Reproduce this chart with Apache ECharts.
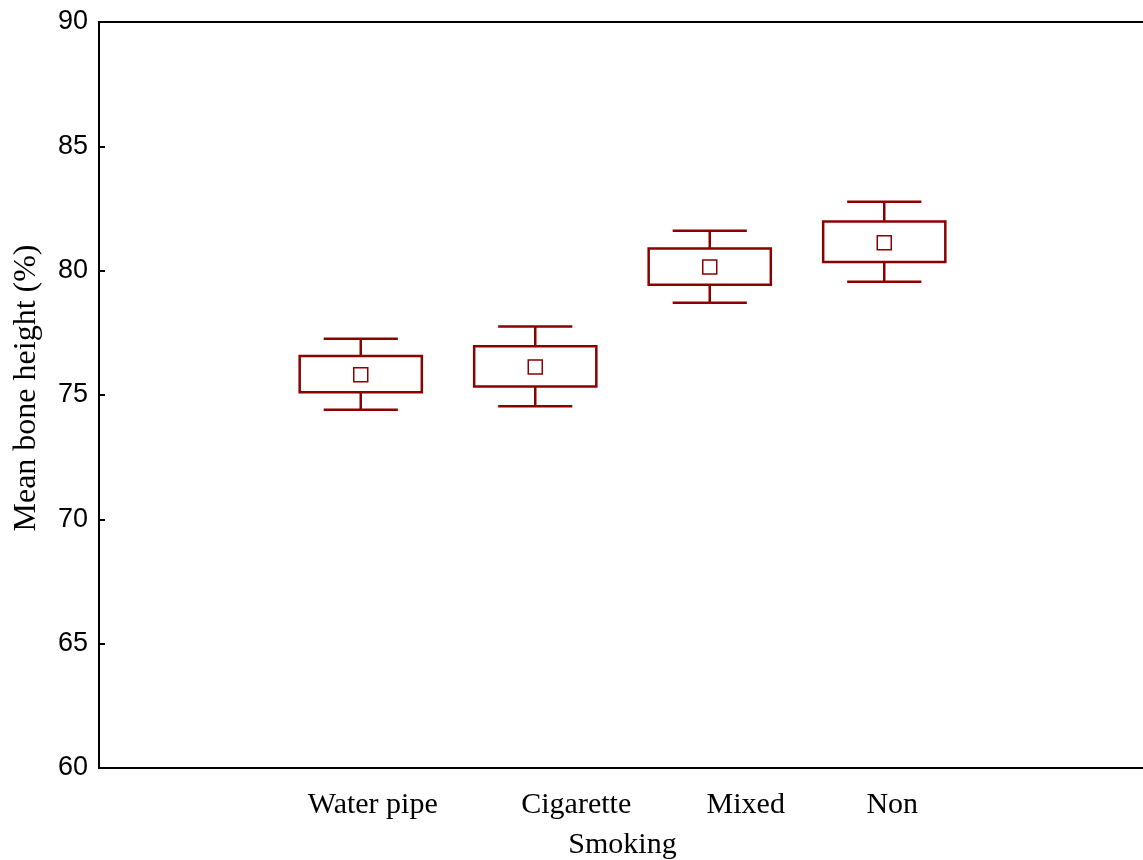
<!DOCTYPE html>
<html>
<head>
<meta charset="utf-8">
<script src="https://cdn.jsdelivr.net/npm/echarts@6/dist/echarts.min.js"></script>
<style>html,body{margin:0;padding:0;background:#fff}#c{width:1143px;height:860px}</style>
</head>
<body>
<div id="c"></div>
<script>
// Data
const categories = ['Water pipe', 'Cigarette', 'Mixed', 'Non'];
const whiskerLow = [74.41, 74.55, 78.71, 79.55];
const boxLow     = [75.11, 75.34, 79.43, 80.35];
const means      = [75.81, 76.13, 80.15, 81.12];
const boxHigh    = [76.57, 76.96, 80.89, 81.98];
const whiskerHigh= [77.26, 77.75, 81.61, 82.77];
const yTicks = [60, 65, 70, 75, 80, 85, 90];

// label nudges (px) to match the reference label placement
const labelShift = { 'Water pipe': 24, 'Cigarette': 82, 'Mixed': 72, 'Non': 16 };

const axisCats = [''].concat(categories).concat(['']);
const seriesData = categories.map((c, i) => [i + 1, whiskerLow[i], boxLow[i], means[i], boxHigh[i], whiskerHigh[i]]);

const red = '#8b0000';
const chart = echarts.init(document.getElementById('c'), null, { renderer: 'canvas' });
const rich = {};
categories.forEach((c, i) => {
  rich['l' + i] = { fontFamily: 'Liberation Serif', fontSize: 30, color: '#000', padding: [0, 0, 0, labelShift[c]] };
});

chart.setOption({
  animation: false,
  grid: { left: 99, top: 22, width: 1047, height: 746, containLabel: false, outerBoundsMode: 'none', show: true, borderColor: '#000', borderWidth: 2, backgroundColor: 'transparent' },
  xAxis: {
    type: 'category',
    data: axisCats,
    boundaryGap: true,
    axisLine: { lineStyle: { color: '#000', width: 2 } },
    axisTick: { show: false },
    splitLine: { show: false },
    axisLabel: {
      margin: 22,
      interval: 0,
      formatter: function (v) {
        const i = categories.indexOf(v);
        return i < 0 ? '' : '{l' + i + '|' + v + '}';
      },
      rich: rich
    },
    name: 'Smoking',
    nameLocation: 'middle',
    nameGap: 62,
    nameTextStyle: { fontFamily: 'Liberation Serif', fontSize: 30, color: '#000' }
  },
  yAxis: {
    type: 'value',
    min: 60, max: 90, interval: 5,
    axisLine: { show: true, lineStyle: { color: '#000', width: 2 } },
    axisTick: { show: true, inside: true, length: 6, lineStyle: { color: '#000', width: 2 } },
    splitLine: { show: false },
    axisLabel: {
      margin: 11,
      fontFamily: 'Liberation Sans', fontSize: 27, color: '#000',
      formatter: function (v) { return yTicks.indexOf(v) >= 0 ? String(v) : ''; }
    },
    name: 'Mean bone height (%)',
    nameLocation: 'middle',
    nameGap: 56,
    nameTextStyle: { fontFamily: 'Liberation Serif', fontSize: 32, color: '#000', padding: [0, 0, 0, 14] }
  },
  series: [{
    type: 'custom',
    data: seriesData,
    encode: { x: 0, y: [1, 2, 3, 4, 5] },
    renderItem: function (params, api) {
      const x = api.value(0);
      const slot = api.size([1, 0])[0];
      const pWL = api.coord([x, api.value(1)]);
      const pBL = api.coord([x, api.value(2)]);
      const pM  = api.coord([x, api.value(3)]);
      const pBH = api.coord([x, api.value(4)]);
      const pWH = api.coord([x, api.value(5)]);
      const cx = pM[0];
      const bw = slot * 0.70;
      const cw = slot * 0.425;
      const ms = 14;
      const st = { stroke: red, lineWidth: 2.5, fill: null };
      return {
        type: 'group',
        children: [
          { type: 'line', shape: { x1: cx, y1: pBH[1], x2: cx, y2: pWH[1] }, style: st },
          { type: 'line', shape: { x1: cx - cw / 2, y1: pWH[1], x2: cx + cw / 2, y2: pWH[1] }, style: st },
          { type: 'line', shape: { x1: cx, y1: pBL[1], x2: cx, y2: pWL[1] }, style: st },
          { type: 'line', shape: { x1: cx - cw / 2, y1: pWL[1], x2: cx + cw / 2, y2: pWL[1] }, style: st },
          { type: 'rect', shape: { x: cx - bw / 2, y: pBH[1], width: bw, height: pBL[1] - pBH[1] }, style: { stroke: red, lineWidth: 2.5, fill: '#fff' } },
          { type: 'rect', shape: { x: cx - ms / 2, y: pM[1] - ms / 2, width: ms, height: ms }, style: { stroke: red, lineWidth: 1.5, fill: '#fff' } }
        ]
      };
    }
  }]
});
</script>
</body>
</html>
